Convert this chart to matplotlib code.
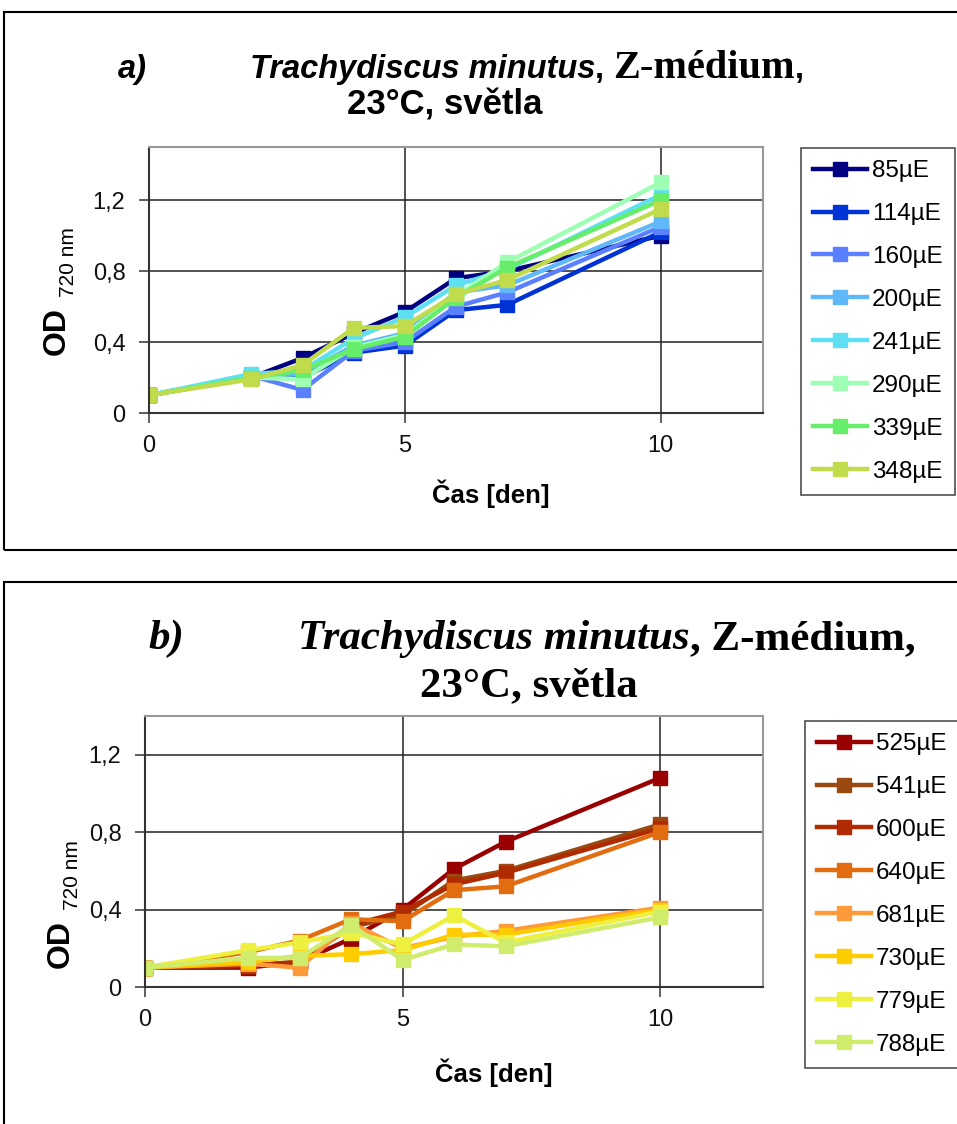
import matplotlib
matplotlib.use("Agg")
import matplotlib.pyplot as plt
from matplotlib.patches import Rectangle
from matplotlib.ticker import FuncFormatter

# Data
days = [0, 2, 3, 4, 5, 6, 7, 10]

labels_a = ["85µE", "114µE", "160µE", "200µE", "241µE", "290µE", "339µE", "348µE"]
colors_a = ["#000080", "#0033d6", "#5b80ff", "#60b8f8", "#5ee0f2", "#9effb4", "#66ee6a", "#c0dc4c"]
od_85 = [0.10, 0.20, 0.31, 0.45, 0.57, 0.76, 0.80, 1.00]
od_114 = [0.10, 0.20, 0.20, 0.34, 0.38, 0.58, 0.61, 1.02]
od_160 = [0.10, 0.21, 0.13, 0.35, 0.40, 0.60, 0.68, 1.05]
od_200 = [0.10, 0.21, 0.22, 0.38, 0.45, 0.68, 0.72, 1.08]
od_241 = [0.10, 0.22, 0.24, 0.42, 0.54, 0.72, 0.81, 1.23]
od_290 = [0.10, 0.20, 0.19, 0.37, 0.44, 0.66, 0.85, 1.30]
od_339 = [0.10, 0.20, 0.24, 0.36, 0.43, 0.65, 0.82, 1.20]
od_348 = [0.10, 0.19, 0.27, 0.48, 0.49, 0.67, 0.75, 1.15]
series_a = [od_85, od_114, od_160, od_200, od_241, od_290, od_339, od_348]

labels_b = ["525µE", "541µE", "600µE", "640µE", "681µE", "730µE", "779µE", "788µE"]
colors_b = ["#990000", "#9a4a10", "#b02c00", "#e26c10", "#ff9a3a", "#ffcc00", "#eef040", "#d0ec6c"]
od_525 = [0.10, 0.10, 0.13, 0.25, 0.40, 0.61, 0.75, 1.08]
od_541 = [0.10, 0.11, 0.13, 0.31, 0.37, 0.55, 0.60, 0.84]
od_600 = [0.10, 0.11, 0.13, 0.32, 0.39, 0.53, 0.59, 0.82]
od_640 = [0.10, 0.18, 0.24, 0.35, 0.34, 0.50, 0.52, 0.80]
od_681 = [0.10, 0.12, 0.10, 0.33, 0.20, 0.26, 0.29, 0.41]
od_730 = [0.10, 0.13, 0.16, 0.17, 0.19, 0.27, 0.27, 0.40]
od_779 = [0.10, 0.19, 0.23, 0.28, 0.22, 0.37, 0.23, 0.39]
od_788 = [0.10, 0.15, 0.15, 0.32, 0.14, 0.22, 0.21, 0.36]
series_b = [od_525, od_541, od_600, od_640, od_681, od_730, od_779, od_788]

W, H = 957, 1124
fig = plt.figure(figsize=(W / 100, H / 100), dpi=100)
plt.rcParams["font.family"] = ["Liberation Sans", "DejaVu Sans"]


def fx(px):
    return px / W


def fy(py):
    return 1 - py / H


# panel frames
fig.patches.append(Rectangle((fx(4), fy(550)), fx(960), fy(12) - fy(550),
                             transform=fig.transFigure, fill=False, ec="black", lw=1.5))
fig.patches.append(Rectangle((fx(4), fy(1130)), fx(960), fy(582) - fy(1130),
                             transform=fig.transFigure, fill=False, ec="black", lw=1.5))


def make_panel(box, series, colors, labels, ymax, leg_anchor):
    ax = fig.add_axes(box)
    for vals, c, lab in zip(series, colors, labels):
        ax.plot(days, vals, color=c, lw=3.2, marker="s", ms=10, mec=c, label=lab)
    ax.set_xlim(0, 12)
    ax.set_ylim(0, ymax)
    ax.set_xticks([0, 5, 10])
    ax.set_yticks([0, 0.4, 0.8, 1.2])
    ax.yaxis.set_major_formatter(FuncFormatter(lambda v, p: ("%g" % round(v, 1)).replace(".", ",")))
    ax.grid(True, color="#222222", lw=1.1)
    ax.set_axisbelow(True)
    for s in ["top", "right"]:
        ax.spines[s].set_color("#999999")
        ax.spines[s].set_linewidth(1.5)
    for s in ["left", "bottom"]:
        ax.spines[s].set_color("#333333")
        ax.spines[s].set_linewidth(1.5)
    ax.tick_params(direction="out", length=7, width=1.1, labelsize=17, colors="#333333",
                   labelcolor="#111111")
    ax.tick_params(axis="y", pad=10)
    ax.tick_params(axis="x", pad=9)
    leg = ax.legend(loc="upper left", bbox_to_anchor=leg_anchor, bbox_transform=fig.transFigure,
                    fontsize=17.5, frameon=True, fancybox=False, edgecolor="#222222",
                    handlelength=2.2, handletextpad=0.22, labelspacing=0.86, borderpad=0.5,
                    borderaxespad=0)
    leg.get_frame().set_linewidth(1.2)
    return ax


ax_a = make_panel([fx(149), fy(413), fx(763) - fx(149), fy(147) - fy(413)],
                  series_a, colors_a, labels_a, 1.5, (fx(801), fy(148)))
ax_b = make_panel([fx(145), fy(987), fx(763) - fx(145), fy(716) - fy(987)],
                  series_b, colors_b, labels_b, 1.4, (fx(805), fy(721)))

# axis labels
for x_od, y_od, x_sub, y_sub in [(57, 331, 69, 262), (61, 944, 73, 875)]:
    fig.text(fx(x_od), fy(y_od), "OD", rotation=90, fontsize=23, fontweight="bold",
             ha="center", va="center")
    fig.text(fx(x_sub), fy(y_sub), "720 nm", rotation=90, fontsize=15,
             ha="center", va="center")
fig.text(fx(491), fy(494), "Čas [den]", fontsize=18.5, fontweight="bold", ha="center", va="center")
fig.text(fx(494), fy(1073), "Čas [den]", fontsize=18.5, fontweight="bold", ha="center", va="center")

# titles built from pieces in different fonts
renderer = fig.canvas.get_renderer()


def pieces_line(x0, y, pieces):
    x = x0
    for txt, kw in pieces:
        t = fig.text(fx(x), fy(y), txt, va="baseline", ha="left", **kw)
        bb = t.get_window_extent(renderer=renderer)
        x += bb.width


sans_bi = dict(fontsize=23.5, fontweight="bold", fontstyle="italic", family="Liberation Sans")
sans_b = dict(fontsize=23.5, fontweight="bold", family="Liberation Sans")
sans_b2 = dict(fontsize=25, fontweight="bold", family="Liberation Sans")
serif_b = dict(fontsize=29, fontweight="bold", family="Liberation Serif")
serif_bi_b = dict(fontsize=31, fontweight="bold", fontstyle="italic", family="Liberation Serif")
serif_bb = dict(fontsize=31, fontweight="bold", family="Liberation Serif")

pieces_line(118, 78, [("a)", sans_bi)])
pieces_line(250, 78, [("Trachydiscus minutus", sans_bi), (", ", sans_b),
                      ("Z-médium", serif_b), (",", sans_b)])
pieces_line(347, 114, [("23°C, světla", sans_b2)])

pieces_line(148, 649, [("b)", serif_bi_b)])
pieces_line(298, 649, [("Trachydiscus minutus", serif_bi_b), (", Z-médium,", serif_bb)])
pieces_line(420, 696, [("23°C, světla", serif_bb)])

fig.savefig("out.png", dpi=100)
